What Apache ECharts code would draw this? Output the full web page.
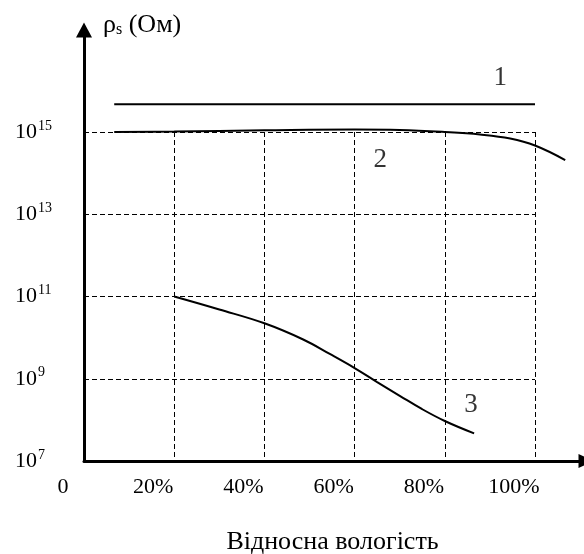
<!DOCTYPE html>
<html>
<head>
<meta charset="utf-8">
<script src="https://cdn.jsdelivr.net/npm/echarts@6/dist/echarts.min.js"></script>
<style>
  html, body { margin: 0; padding: 0; background: #fff; }
  #chart { width: 584px; height: 554px; }
</style>
</head>
<body>
<div id="chart"></div>
<script>
var FONT = "'Liberation Serif', 'Times New Roman', serif";

// curve 1 - flat
var curve1X = [6.7, 100];
var curve1Y = [4.7e15, 4.7e15];
// curve 2 - almost flat, drops after 80%
var curve2X = [6.7, 20, 40, 60, 70, 80, 87.8, 94.5, 100, 106.7];
var curve2Y = [1.0e15, 1.03e15, 1.1e15, 1.15e15, 1.12e15, 1.0e15, 8.7e14, 6.95e14, 4.7e14, 2.08e14];
// curve 3 - falling
var curve3X = [20, 30, 40, 48.6, 54.5, 60, 65, 70.1, 74.9, 80, 86.5];
var curve3Y = [1e11, 4.83e10, 2.23e10, 9.0e9, 4.0e9, 1.82e9, 8.3e8, 3.8e8, 1.84e8, 9.4e7, 4.7e7];
// curve numbers
var tagNames = ['1', '2', '3'];
var tagX = [92.3, 65.7, 85.8];
var tagY = [2.1e16, 2.1e14, 2.3e8];

var yAxisName = '{b|ρ}{sub|s}{b| (Ом)}';
var xAxisName = 'Відносна вологість';

// layout: inner grid holds the dashed net (0..100 %, 1e7..1e15),
// outer grid holds the arrow axes and the curves, same scale
var L = 84, B = 93, W = 584, H = 554;
var innerRight = 49, innerTop = 132;
var outerRight = -2, outerTop = 30;
var xMaxOuter = 100 * (W - outerRight - L) / (W - innerRight - L);
var yMaxOuter = Math.pow(10, 7 + 8 * (H - B - outerTop) / (H - B - innerTop));

function zip(xs, ys) {
  return xs.map(function (x, i) { return [x, ys[i]]; });
}

function curve(xs, ys) {
  return {
    type: 'line',
    xAxisIndex: 1,
    yAxisIndex: 1,
    data: zip(xs, ys),
    smooth: 0.4,
    clip: false,
    symbol: 'none',
    silent: true,
    lineStyle: { color: '#000', width: 2 }
  };
}

var dash = { show: true, lineStyle: { color: '#000', width: 1, type: [5, 3] } };
var arrowLine = function (size) {
  return {
    show: true,
    symbol: ['none', 'triangle'],
    symbolSize: size,
    lineStyle: { color: '#000', width: 3 }
  };
};

var option = {
  animation: false,
  backgroundColor: '#fff',
  textStyle: { fontFamily: FONT },
  grid: [
    { left: L, right: innerRight, top: innerTop, bottom: B, outerBoundsMode: 'none', containLabel: false },
    { left: L, right: outerRight, top: outerTop, bottom: B, outerBoundsMode: 'none', containLabel: false }
  ],
  xAxis: [
    {
      gridIndex: 0,
      type: 'value',
      min: 0,
      max: 100,
      interval: 20,
      axisLine: { show: false },
      axisTick: { show: false },
      splitLine: dash,
      axisLabel: {
        color: '#000',
        fontFamily: FONT,
        fontSize: 22,
        margin: 15,
        padding: [0, 42, 0, 0],
        formatter: function (v) { return v === 0 ? '0' : v + '%'; }
      }
    },
    {
      gridIndex: 1,
      type: 'value',
      min: 0,
      max: xMaxOuter,
      axisLine: arrowLine([14, 15]),
      axisTick: { show: false },
      axisLabel: { show: false },
      splitLine: { show: false },
      name: xAxisName,
      nameLocation: 'middle',
      nameGap: 68,
      nameTextStyle: { color: '#000', fontFamily: FONT, fontSize: 26, padding: [0, 5, 0, 0] }
    }
  ],
  yAxis: [
    {
      gridIndex: 0,
      type: 'log',
      logBase: 10,
      min: 1e7,
      max: 1e15,
      interval: 2,
      axisLine: { show: false },
      axisTick: { show: false },
      splitLine: dash,
      axisLabel: {
        color: '#000',
        fontFamily: FONT,
        fontSize: 22,
        align: 'left',
        margin: 69,
        formatter: function (v) {
          return '10{sup|' + Math.round(Math.log(v) / Math.LN10) + '}';
        },
        rich: {
          sup: { fontFamily: FONT, fontSize: 14, color: '#000', verticalAlign: 'top', padding: [0, 0, 12, 1] }
        }
      }
    },
    {
      gridIndex: 1,
      type: 'log',
      logBase: 10,
      min: 1e7,
      max: yMaxOuter,
      axisLine: arrowLine([16, 15]),
      axisTick: { show: false },
      axisLabel: { show: false },
      splitLine: { show: false },
      name: yAxisName,
      nameLocation: 'end',
      nameGap: 5,
      nameTextStyle: {
        align: 'left',
        verticalAlign: 'middle',
        padding: [0, 0, 0, 19],
        rich: {
          b: { fontFamily: FONT, fontSize: 26, color: '#000' },
          sub: { fontFamily: FONT, fontSize: 16, color: '#000', verticalAlign: 'bottom', padding: [7, 0, 0, 0] }
        }
      }
    }
  ],
  series: [
    curve(curve1X, curve1Y),
    curve(curve2X, curve2Y),
    curve(curve3X, curve3Y),
    {
      type: 'scatter',
      xAxisIndex: 1,
      yAxisIndex: 1,
      clip: false,
      silent: true,
      symbolSize: 0,
      data: tagNames.map(function (n, i) { return { name: n, value: [tagX[i], tagY[i]] }; }),
      label: {
        show: true,
        position: 'inside',
        formatter: '{b}',
        color: '#000',
        fontFamily: FONT,
        fontSize: 27
      }
    }
  ]
};

var chart = echarts.init(document.getElementById('chart'));
chart.setOption(option);
</script>
</body>
</html>
